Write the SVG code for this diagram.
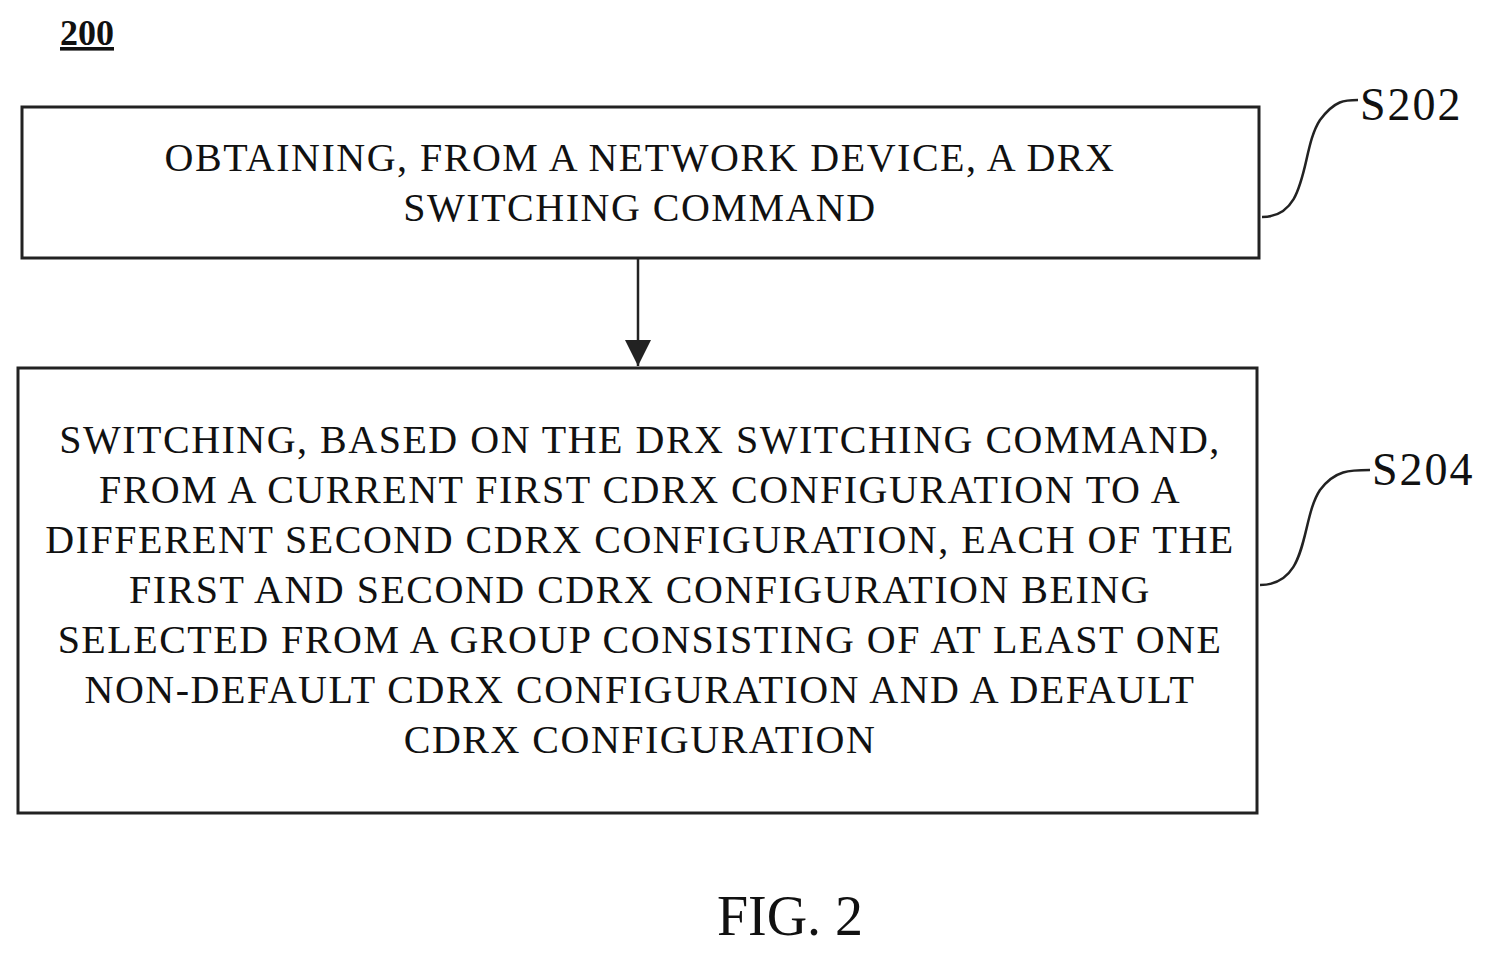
<svg xmlns="http://www.w3.org/2000/svg" width="1500" height="957" viewBox="0 0 1500 957">
<style>
.box{fill:#fff;stroke:#222;stroke-width:3}
.t{font-family:"Liberation Serif",serif;font-size:40px;letter-spacing:1.5px;fill:#111;text-anchor:middle}
.l{font-family:"Liberation Serif",serif;font-size:46px;letter-spacing:2px;fill:#111}
.c{fill:none;stroke:#222;stroke-width:2.5}
</style>
<defs>
<marker id="ah" markerWidth="28" markerHeight="26" refX="26" refY="13" orient="auto" markerUnits="userSpaceOnUse"><path d="M0,0L26,13L0,26z" fill="#222"/></marker></defs>
<rect width="1500" height="957" fill="#fff"/>
<text x="60" y="45" style="font-family:'Liberation Serif',serif;font-size:36px;font-weight:bold;text-decoration:underline" fill="#111">200</text>
<g id="s202"><rect class="box" x="22" y="107" width="1237" height="151"/>
<text class="t" x="640" y="171">OBTAINING, FROM A NETWORK DEVICE, A DRX</text>
<text class="t" x="640" y="221">SWITCHING COMMAND</text>
<text class="l" x="1360" y="120">S202</text></g>
<g id="s204"><rect class="box" x="18" y="368" width="1239" height="445"/>
<text class="t" x="640" y="453">SWITCHING, BASED ON THE DRX SWITCHING COMMAND,</text>
<text class="t" x="640" y="503">FROM A CURRENT FIRST CDRX CONFIGURATION TO A</text>
<text class="t" x="640" y="553">DIFFERENT SECOND CDRX CONFIGURATION, EACH OF THE</text>
<text class="t" x="640" y="603">FIRST AND SECOND CDRX CONFIGURATION BEING</text>
<text class="t" x="640" y="653">SELECTED FROM A GROUP CONSISTING OF AT LEAST ONE</text>
<text class="t" x="640" y="703">NON-DEFAULT CDRX CONFIGURATION AND A DEFAULT</text>
<text class="t" x="640" y="753">CDRX CONFIGURATION</text>
<text class="l" x="1372" y="485">S204</text></g>
<g id="connectors">
<path class="c" d="M638,258V366" marker-end="url(#ah)"/>
<path class="c" d="M1262,217C1310,217 1300,150 1320,120C1335,100 1345,100 1358,100"/>
<path class="c" d="M1260,585C1310,585 1300,520 1320,490C1335,470 1350,470 1370,470"/>
</g>
<text x="790" y="935" style="font-family:'Liberation Serif',serif;font-size:56px;text-anchor:middle" fill="#111">FIG. 2</text>
</svg>
